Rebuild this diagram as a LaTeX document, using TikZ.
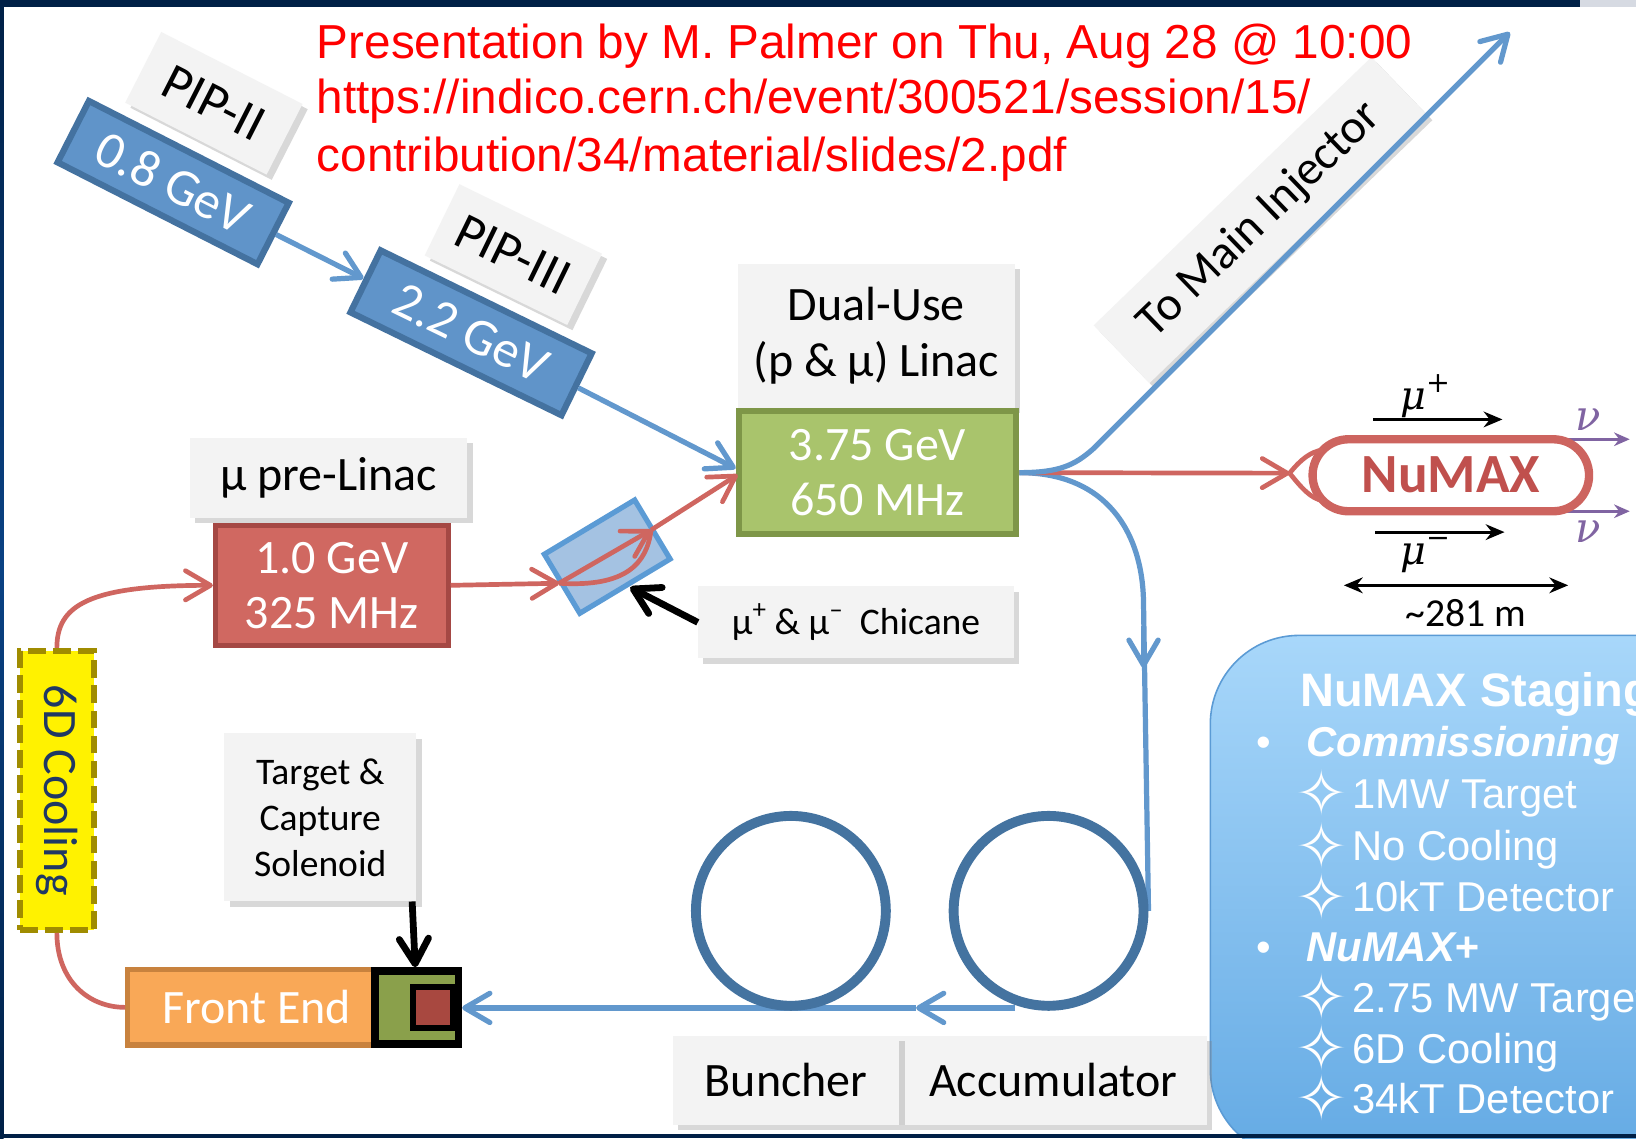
\documentclass[tikz,border=0pt]{standalone}
\usepackage{fontspec}
\usepackage{graphicx}
\setmainfont{Carlito}
\newfontfamily\arialf{Liberation Sans}
\newfontfamily\dejaf{DejaVu Sans}
\newfontfamily\dserf{DejaVu Serif}
\usetikzlibrary{arrows.meta,shadows}
\pgfdeclarelayer{back}
\pgfdeclarelayer{mid}
\pgfsetlayers{back,mid,main}
\newcommand\mysup[1]{\raisebox{0.42em}{\scalebox{0.72}{#1}}}
\definecolor{navy}{RGB}{0,32,70}
\definecolor{navymid}{RGB}{10,66,132}
\definecolor{topgray}{RGB}{214,218,226}
\definecolor{lgray}{RGB}{243,243,243}
\definecolor{pipfill}{RGB}{96,148,201}
\definecolor{pipdraw}{RGB}{68,114,160}
\definecolor{lblue}{RGB}{98,152,205}
\definecolor{ringblue}{RGB}{68,115,160}
\definecolor{redl}{RGB}{207,102,96}
\definecolor{rfill}{RGB}{208,104,97}
\definecolor{rdraw}{RGB}{165,72,68}
\definecolor{gfill}{RGB}{169,196,108}
\definecolor{gdraw}{RGB}{126,150,72}
\definecolor{ofill}{RGB}{249,168,87}
\definecolor{odraw}{RGB}{200,130,62}
\definecolor{tgreen}{RGB}{138,160,75}
\definecolor{tred}{RGB}{168,72,64}
\definecolor{ydraw}{RGB}{160,140,0}
\definecolor{ytext}{RGB}{31,56,100}
\definecolor{numaxr}{RGB}{205,100,95}
\definecolor{numaxt}{RGB}{192,80,77}
\definecolor{nupurple}{RGB}{128,100,162}
\definecolor{stagetop}{RGB}{168,215,250}
\definecolor{stagebot}{RGB}{100,170,228}
\definecolor{chfill}{RGB}{164,194,226}
\definecolor{chdraw}{RGB}{91,155,213}
\definecolor{hdred}{RGB}{255,0,0}
\tikzset{
  chev/.tip={Straight Barb[length=24pt,width=28pt,round]},
  lbl/.style={fill=lgray,inner sep=0pt,align=center,
    font=\fontsize{46}{54}\selectfont,
    drop shadow={opacity=0.3,shadow xshift=5pt,shadow yshift=-5pt}},
  pipbox/.style={fill=pipfill,draw=pipdraw,line width=6pt,inner sep=0pt,
    text=white,font=\fontsize{50}{56}\selectfont,minimum height=66pt},
  bline/.style={draw=lblue,line width=5pt},
  rline/.style={draw=redl,line width=4.5pt},
  kline/.style={draw=black,line width=6.5pt},
  ringnode/.style={circle,draw=ringblue,line width=9.5pt,minimum size=182pt,inner sep=0pt},
  stg/.style={anchor=base west,text=white,inner sep=0pt,
    font=\arialf\fontsize{40}{48}\selectfont},
  star/.style={anchor=center,text=white,inner sep=0pt,
    font=\dejaf\fontsize{60}{60}\selectfont},
  hdr/.style={anchor=base west,inner sep=0pt,text=hdred,
    font=\arialf\fontsize{45.7}{54}\selectfont},
  greek/.style={inner sep=0pt,font=\dserf\itshape\fontsize{38}{44}\selectfont},
}
\begin{document}
\begin{tikzpicture}[x=1pt,y=-1pt]
\useasboundingbox (0,0) rectangle (1568,1091);
\begin{pgfonlayer}{back}
  \fill[white] (0,0) rectangle (1568,1091);
  \clip (0,0) rectangle (1568,1091);
  \path[draw=chdraw,line width=1.5pt,rounded corners=85pt,
        top color=stagetop,bottom color=stagebot] (1160,609) rectangle (1700,1110);
\end{pgfonlayer}

% ---------- PIP boxes ----------
\node[lbl,rotate=-27,minimum width=152pt,minimum height=76pt,
      font=\fontsize{50}{56}\selectfont] (pip2l) at (205,99) {PIP-II};
\node[pipbox,rotate=-27,minimum width=215pt] (pip2) at (166,175) {0.8 GeV};
\node[lbl,rotate=-26,minimum width=152pt,minimum height=76pt,
      font=\fontsize{50}{56}\selectfont] (pip3l) at (492,244) {PIP-III};
\node[pipbox,rotate=-26,minimum width=225pt] (pip3) at (451.5,319) {2.2 GeV};

% ---------- Linac ----------
\node[lbl,minimum width=266pt,minimum height=138pt] (dul) at (840,322)
  {Dual-Use\\(p \& μ) Linac};
\node[fill=gfill,draw=gdraw,line width=6pt,minimum width=266pt,minimum height=118pt,
      inner sep=0pt,text=white,align=center,font=\fontsize{46}{53}\selectfont]
      (lin) at (841,453) {3.75 GeV\\650 MHz};

% ---------- pre-Linac ----------
\node[lbl,minimum width=266pt,minimum height=77pt] (prl) at (315,458) {μ pre-Linac};
\node[fill=rfill,draw=rdraw,line width=5pt,minimum width=223pt,minimum height=115pt,
      inner sep=0pt,text=white,align=center,font=\fontsize{46}{53}\selectfont]
      (prel) at (318,561) {1.0 GeV\\325 MHz};

% ---------- Chicane ----------
\node[fill=chfill,draw=chdraw,line width=5pt,minimum width=101pt,minimum height=66pt,
      rotate=31,inner sep=0pt] (chic) at (582,533.5) {};
\node[lbl,minimum width=303pt,minimum height=69pt,font=\fontsize{36}{42}\selectfont]
      (chl) at (820.5,596.5) {μ\mysup{+} \& μ\mysup{–}\ \ Chicane};

% ---------- Target label ----------
\node[lbl,minimum width=184pt,minimum height=161pt,font=\fontsize{36}{44}\selectfont]
      (tgl) at (307,783.5) {Target \&\\Capture\\Solenoid};

% ---------- 6D Cooling ----------
\node[fill=yellow,draw=ydraw,line width=6pt,dash pattern=on 17pt off 7pt,
      minimum width=71pt,minimum height=267pt,inner sep=0pt] (cool) at (54.5,757.5) {};
\node[rotate=-90,text=ytext,inner sep=0pt,font=\fontsize{46}{54}\selectfont]
      (coolt) at (cool.center) {6D Cooling};

% ---------- Front End & target ----------
\node[fill=ofill,draw=odraw,line width=5pt,minimum width=247pt,minimum height=72pt,
      inner sep=0pt,text=white,font=\fontsize{46}{54}\selectfont]
      (fe) at (246,965.5) {Front End};
\node[fill=tgreen,draw=black,line width=7pt,minimum width=80pt,minimum height=70pt,
      inner sep=0pt] (tgt) at (399.5,965.5) {};
\node[fill=tred,draw=black,line width=6pt,minimum width=38pt,minimum height=39pt,
      inner sep=0pt] (tin) at (415,965.5) {};

% ---------- coordinates ----------
\coordinate (linb) at (705,449);
\coordinate (linr) at (707,455);
\coordinate (chicL) at (536,559);
\coordinate (chicT) at (624,508);
\coordinate (chicB) at (604,563);
\coordinate (tgs) at (395,864);
\coordinate (tgn) at (398,927);
\coordinate (mi1) at (1048,430);
\coordinate (mitip) at (1447,31);
\coordinate (dn0) at (1096,580);
\coordinate (dn1) at (1096,600);
\coordinate (dn2) at (1096,640);
\coordinate (hstart) at (973,966);
\coordinate (hmid) at (878,966);
\coordinate (inj) at (1236,453.5);
\coordinate (ringU) at (1268,431.1);
\coordinate (ringD) at (1268,479.9);

% ---------- rings ----------
\node[ringnode] (bun) at (758,873) {};
\node[ringnode] (acc) at (1005,873) {};

% lines under rings
\begin{pgfonlayer}{mid}
  \draw[bline] (lin.east) .. controls (1060,453) and (1096,510) .. (dn0) -- (acc.east);
  \draw[bline,-chev] (dn1) -- (dn2);
  \draw[bline,-chev] (hstart) -- (hmid);
  \draw[bline,-chev] (hmid) -- (tgt.east |- hmid);
  \draw[draw=nupurple,line width=3pt,-{Stealth[length=15pt,width=13pt]}] (1488,421) -- (1562,421);
  \draw[draw=nupurple,line width=3pt,-{Stealth[length=15pt,width=13pt]}] (1488,490) -- (1562,490);
\end{pgfonlayer}

% ---------- Buncher / Accumulator labels ----------
\node[lbl,minimum width=295pt,minimum height=85pt] (acl) at (1009.5,1035.5) {Accumulator};
\node[lbl,minimum width=217pt,minimum height=85pt] (bul) at (753.5,1035.5) {Buncher};

% ---------- Main injector label ----------
\node[lbl,rotate=44,minimum width=370pt,minimum height=77pt] (mil) at (1208,211) {To Main Injector};

% ---------- NuMAX ring ----------
\node[draw=numaxr,line width=8pt,rounded corners=34.5pt,minimum width=265pt,
      minimum height=69pt,inner sep=0pt,text=numaxt,
      font=\bfseries\fontsize{53}{60}\selectfont] (nmx) at (1390.5,455.5) {NuMAX};

% ---------- connectors ----------
\draw[bline,-chev] (pip2) -- (pip3);
\draw[bline,-chev] (pip3) -- (linb);
\draw[rline,-chev] (prel.east) -- (chicL);
\draw[rline,-chev] (chicL) -- (chicT);
\draw[rline] (chicL) .. controls (600,563) and (620,540) .. (chicT);
\draw[rline,-chev] (chicT) -- (linr);
\draw[kline,-chev] (chl.west) -- (chicB);
\draw[kline,-chev] (tgs) -- (tgn);
\draw[rline,-chev] (cool.north) .. controls (54.5,580) and (85,561) .. (prel.west);
\draw[rline] (cool.south) .. controls (54.5,940) and (85,965.5) .. (fe.west);
\draw[rline,-chev] (lin.east) -- (inj);
\draw[rline] (inj) .. controls (1247,440) and (1256,433) .. (ringU);
\draw[rline] (inj) .. controls (1247,467) and (1256,478) .. (ringD);
\draw[bline,-chev] (lin.east) .. controls (1015,453) and (1030,446) .. (mi1) -- (mitip);

% ---------- mu / nu annotations ----------
\draw[line width=3pt,-{Stealth[length=18pt,width=15pt]}] (1316,402) -- (1440,402);
\draw[line width=3pt,-{Stealth[length=18pt,width=15pt]}] (1318,510) -- (1442,510);
\draw[line width=3pt,{Stealth[length=18pt,width=15pt]}-{Stealth[length=18pt,width=15pt]}] (1288,561) -- (1503,561);
\node[greek] (mup) at (1366,380) {μ\mysup{+}};
\node[greek] (mum) at (1366,532) {μ\mysup{−}};
\node[greek,text=nupurple,font=\dserf\itshape\fontsize{40}{46}\selectfont] (nu1) at (1522,402) {ν};
\node[greek,text=nupurple,font=\dserf\itshape\fontsize{40}{46}\selectfont] (nu2) at (1522,510) {ν};
\node[inner sep=0pt,font=\fontsize{38}{44}\selectfont] (len) at (1405,588) {\symbol{126}281 m};

% ---------- Staging text ----------
\node[stg,font=\arialf\bfseries\fontsize{45}{54}\selectfont] (st0) at (1246,677) {NuMAX Staging};
\node[stg] (b1) at (1204,725) {•};
\node[stg,font=\arialf\bfseries\itshape\fontsize{40}{48}\selectfont] (st1) at (1252,725) {Commissioning};
\node[star] (s1) at (1267,760) {✧};
\node[stg] (t1) at (1296,775) {1MW Target};
\node[star] (s2) at (1267,810) {✧};
\node[stg] (t2) at (1296,825) {No Cooling};
\node[star] (s3) at (1267,859) {✧};
\node[stg] (t3) at (1296,874) {10kT Detector};
\node[stg] (b2) at (1204,922) {•};
\node[stg,font=\arialf\bfseries\itshape\fontsize{40}{48}\selectfont] (st2) at (1252,922) {NuMAX+};
\node[star] (s4) at (1267,955) {✧};
\node[stg] (t4) at (1296,970) {2.75 MW Target};
\node[star] (s5) at (1267,1004) {✧};
\node[stg] (t5) at (1296,1019) {6D Cooling};
\node[star] (s6) at (1267,1052) {✧};
\node[stg] (t6) at (1296,1067) {34kT Detector};

% ---------- header ----------
\node[hdr] (h1) at (303.5,56) {Presentation by M. Palmer on Thu, Aug 28 @ 10:00};
\node[hdr] (h2) at (303.5,109) {https://indico.cern.ch/event/300521/session/15/};
\node[hdr] (h3) at (303.5,164) {contribution/34/material/slides/2.pdf};

% ---------- frame ----------
\fill[navy] (0,0) rectangle (1514,7);
\fill[topgray] (1514,0) rectangle (1568,7);
\shade[top color=navy,bottom color=navy,middle color=navymid] (0,0) rectangle (3.5,1091);
\fill[navy] (0,1087) rectangle (1568,1091);
\end{tikzpicture}
\end{document}
